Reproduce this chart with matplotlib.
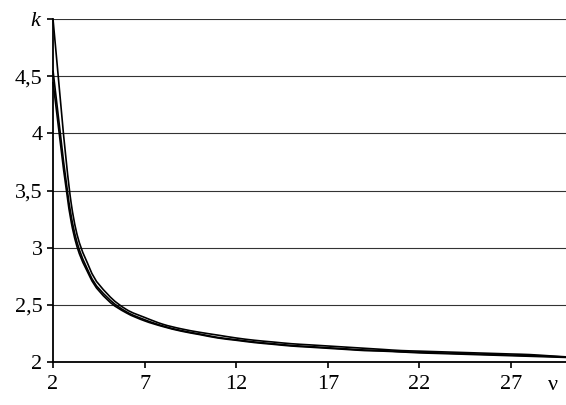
import numpy as np
import matplotlib
matplotlib.use("Agg")
import matplotlib.pyplot as plt
from matplotlib.path import Path
from matplotlib.patches import PathPatch
from matplotlib.transforms import blended_transform_factory

plt.rcParams['font.family'] = ['Liberation Serif', 'DejaVu Serif']
plt.rcParams['mathtext.fontset'] = 'custom'
plt.rcParams['mathtext.it'] = 'Liberation Serif:italic'

# degrees of freedom
nu = list(range(2, 31))

# three curves of k(nu)
k_a = [5.00, 3.38, 2.82, 2.59, 2.46, 2.39, 2.33, 2.29, 2.26, 2.235,
       2.21, 2.19, 2.175, 2.16, 2.15, 2.14, 2.13, 2.12, 2.11, 2.10,
       2.095, 2.09, 2.085, 2.08, 2.075, 2.07, 2.065, 2.055, 2.045]
k_b = [4.55, 3.27, 2.77, 2.56, 2.44, 2.37, 2.315, 2.275, 2.245, 2.215,
       2.195, 2.175, 2.16, 2.145, 2.135, 2.125, 2.115, 2.105, 2.10, 2.09,
       2.085, 2.08, 2.075, 2.07, 2.065, 2.06, 2.055, 2.05, 2.043]
k_c = [4.45, 3.22, 2.75, 2.54, 2.43, 2.36, 2.31, 2.27, 2.24, 2.21,
       2.19, 2.17, 2.155, 2.14, 2.13, 2.12, 2.11, 2.10, 2.095, 2.088,
       2.08, 2.075, 2.07, 2.065, 2.06, 2.055, 2.05, 2.045, 2.04]

x_ticks = [2, 7, 12, 17, 22, 27]
y_ticks = [2, 2.5, 3, 3.5, 4, 4.5, 5]
y_labels = ['2', '2,5', '3', '3,5', '4', '4,5', '$k$']


def smooth_path(x, y):
    # spreadsheet-style smoothed line: cubic Bezier segments through the points
    p = np.column_stack([x, y]).astype(float)
    n = len(p)
    verts = [p[0]]
    codes = [Path.MOVETO]
    for i in range(n - 1):
        prev = p[i - 1] if i > 0 else p[i]
        nxt = p[i + 2] if i + 2 < n else p[i + 1]
        c1 = p[i] + (p[i + 1] - prev) / 6
        c2 = p[i + 1] - (nxt - p[i]) / 6
        verts += [c1, c2, p[i + 1]]
        codes += [Path.CURVE4] * 3
    return Path(verts, codes)


fig = plt.figure(figsize=(5.66, 4.05), dpi=100)
ax = fig.add_axes([53/566, 1 - 362/405, 1 - 53/566, (362 - 19)/405])

for k in (k_a, k_b, k_c):
    ax.add_patch(PathPatch(smooth_path(nu, k), facecolor='none',
                           edgecolor='black', lw=1.2, clip_on=False))

ax.set_xlim(2, 30)
ax.set_ylim(2, 5)
ax.set_xticks(x_ticks)
ax.set_xticklabels([str(t) for t in x_ticks])
ax.set_yticks(y_ticks)
ax.set_yticklabels(y_labels)

ax.grid(axis='y', color='#333333', lw=0.8)
ax.set_axisbelow(True)
for s in ('top', 'right'):
    ax.spines[s].set_visible(False)
for s in ('left', 'bottom'):
    ax.spines[s].set_linewidth(1.3)

ax.tick_params(axis='both', direction='out', length=4.5, width=1.2,
               labelsize=16, colors='black')
ax.tick_params(axis='x', pad=5)
ax.tick_params(axis='y', pad=3)

# axis name nu at the end of the x axis
tr = blended_transform_factory(ax.transData, ax.transAxes)
ax.text(29.3, -0.042, 'ν', transform=tr, ha='center', va='top', fontsize=16)

fig.savefig('out.png', dpi=100)
